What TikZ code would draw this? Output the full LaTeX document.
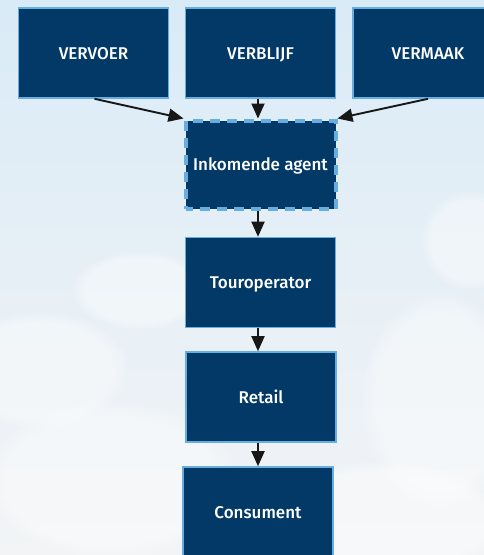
\documentclass[tikz,border=0pt]{standalone}
\usepackage{fontspec}
\setmainfont{Fira Sans Medium}
\usetikzlibrary{arrows.meta,fadings}
\definecolor{navy}{HTML}{023966}
\definecolor{edgeblue}{HTML}{67ADE0}
\definecolor{skytop}{HTML}{D9EBF7}
\definecolor{skymid}{HTML}{E6EFF6}
\definecolor{skybot}{HTML}{F2F4F6}
\definecolor{arrowc}{HTML}{171717}
\tikzset{
  box/.style={rectangle, fill=navy, draw=edgeblue, line width=1.6pt,
    minimum width=150pt, minimum height=90pt, inner sep=0pt,
    text height=12pt, text depth=0pt,
    text=white, font=\fontsize{17}{20}\selectfont},
  dashbox/.style={box, line width=4pt, dash pattern=on 10pt off 7pt, dash phase=3pt,
    minimum width=150pt, minimum height=88pt},
  flow/.style={draw=arrowc, line width=1.9pt, -{Triangle[length=15pt,width=13pt]}},
  cloud/.style={fill=white, draw=none, opacity=0.4,
    path fading=circle with fuzzy edge 20 percent}
}
\begin{document}
\begin{tikzpicture}[x=1pt,y=-1pt]
\useasboundingbox (0,0) rectangle (484,555);
\clip (0,0) rectangle (484,555);
\shade[top color=skytop, bottom color=skymid] (0,0) rectangle (484,260);
\shade[top color=skymid, bottom color=skybot] (0,260) rectangle (484,555);
% soft clouds
\fill[cloud] (140,290) ellipse (70 and 40);
\fill[cloud] (40,370) ellipse (90 and 60);
\fill[cloud] (440,400) ellipse (80 and 110);
\fill[cloud] (110,480) ellipse (130 and 80);
\fill[cloud] (380,520) ellipse (130 and 60);
\fill[cloud] (470,240) ellipse (50 and 50);

\node[box] (vervoer) at (93.5,53) {VERVOER};
\node[box] (verblijf) at (260.5,53) {VERBLIJF};
\node[box] (vermaak) at (428,53) {VERMAAK};
\node[dashbox] (agent) at (260.5,164.5) {Inkomende agent};
\node[box] (tour) at (260.5,282.5) {Touroperator};
\node[box] (retail) at (261,397) {Retail};
\node[box] (consument) at (258,512) {Consument};

\draw[flow] ([xshift=1pt]vervoer.south) -- (agent.north west);
\draw[flow] ([xshift=-2.5pt]verblijf.south) -- ([xshift=-2.5pt]agent.north);
\draw[flow] (vermaak.south) -- (agent.north east);
\draw[flow] ([xshift=-2.5pt]agent.south) -- ([xshift=-2.5pt]tour.north);
\draw[flow] ([xshift=-2.5pt]tour.south) -- ([xshift=-3pt]retail.north);
\draw[flow] ([xshift=-3pt]retail.south) -- (consument.north);
\end{tikzpicture}
\end{document}
